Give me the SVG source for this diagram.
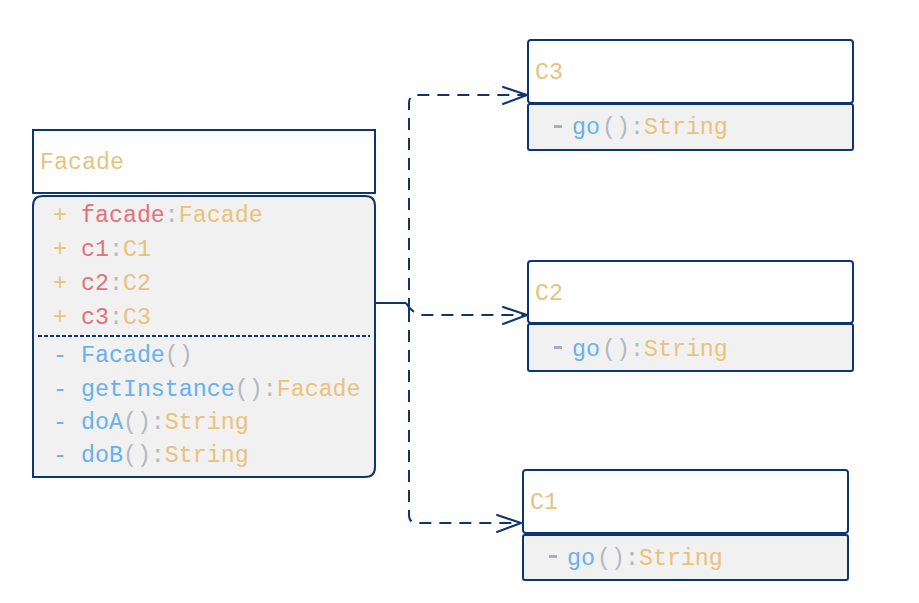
<svg xmlns="http://www.w3.org/2000/svg" width="919" height="603" viewBox="0 0 919 603">
<defs>
<style>
text{font-family:"Liberation Mono","DejaVu Sans Mono",monospace;font-size:23.3px}
.box{fill:#ffffff;stroke:#0f3472;stroke-width:2}
.body{fill:#f1f1f1;stroke:#0f3472;stroke-width:2}
.or{fill:#e8c27e}
.rd{fill:#e0737b}
.bl{fill:#68b0ee}
.gr{fill:#b3b8c2}
.edge{fill:none;stroke:#0f3472;stroke-width:2;stroke-dasharray:12 8}
.ah{fill:none;stroke:#0f3472;stroke-width:2;stroke-linecap:round;stroke-linejoin:round}
</style>
</defs>
<rect width="919" height="603" fill="#ffffff"/>
<g id="connectors">
<path d="M376 303 L406 303" fill="none" stroke="#0f3472" stroke-width="2"/>
<path class="edge" d="M409 310 L409 103 Q409 95 417 95 L526 95"/>
<path class="ah" d="M503 87 L527 95 L503 104"/>
<path class="edge" d="M406 303 Q412 314 424 315 L526 315"/>
<path class="ah" d="M503 307 L527 315 L503 324"/>
<path class="edge" d="M409 310 L409 515 Q409 523 417 523 L520 523"/>
<path class="ah" d="M497 515 L521 523 L497 532"/>
</g>
<g id="Facade">
<rect class="box" x="33" y="130" width="342" height="63"/>
<text x="40" y="169" class="or">Facade</text>
<path class="body" d="M43 196 L365 196 Q375 196 375 206 L375 467 Q375 477 365 477 L33 477 L33 206 Q33 196 43 196 Z"/>
<text x="53" y="222"><tspan class="or">+ </tspan><tspan class="rd">facade</tspan><tspan class="gr">:</tspan><tspan class="or">Facade</tspan></text>
<text x="53" y="256"><tspan class="or">+ </tspan><tspan class="rd">c1</tspan><tspan class="gr">:</tspan><tspan class="or">C1</tspan></text>
<text x="53" y="290"><tspan class="or">+ </tspan><tspan class="rd">c2</tspan><tspan class="gr">:</tspan><tspan class="or">C2</tspan></text>
<text x="53" y="324"><tspan class="or">+ </tspan><tspan class="rd">c3</tspan><tspan class="gr">:</tspan><tspan class="or">C3</tspan></text>
<line x1="38" y1="336" x2="370" y2="336" stroke="#0f3472" stroke-width="2" stroke-dasharray="4 2"/>
<text x="53" y="362"><tspan class="bl">- Facade</tspan><tspan class="gr">()</tspan></text>
<text x="53" y="396"><tspan class="bl">- getInstance</tspan><tspan class="gr">():</tspan><tspan class="or">Facade</tspan></text>
<text x="53" y="429"><tspan class="bl">- doA</tspan><tspan class="gr">():</tspan><tspan class="or">String</tspan></text>
<text x="53" y="462"><tspan class="bl">- doB</tspan><tspan class="gr">():</tspan><tspan class="or">String</tspan></text>
</g>
<g id="C3">
<rect class="box" x="528" y="40" width="325" height="63" rx="3"/>
<text x="535" y="79" class="or">C3</text>
<rect class="body" x="528" y="104" width="325" height="46" rx="2"/>
<rect x="554" y="125" width="8" height="3" fill="#a9aeb8"/>
<text x="572" y="134"><tspan class="bl">go</tspan><tspan class="gr" x="602">():</tspan><tspan class="or">String</tspan></text>
</g>
<g id="C2">
<rect class="box" x="528" y="261" width="325" height="62" rx="3"/>
<text x="535" y="300" class="or">C2</text>
<rect class="body" x="528" y="324" width="325" height="47" rx="2"/>
<rect x="554" y="346" width="8" height="3" fill="#a9aeb8"/>
<text x="572" y="356"><tspan class="bl">go</tspan><tspan class="gr" x="602">():</tspan><tspan class="or">String</tspan></text>
</g>
<g id="C1">
<rect class="box" x="523" y="470" width="325" height="63" rx="3"/>
<text x="530" y="509" class="or">C1</text>
<rect class="body" x="523" y="535" width="325" height="45" rx="2"/>
<rect x="549" y="555" width="8" height="3" fill="#a9aeb8"/>
<text x="567" y="565"><tspan class="bl">go</tspan><tspan class="gr" x="597">():</tspan><tspan class="or">String</tspan></text>
</g>
</svg>
